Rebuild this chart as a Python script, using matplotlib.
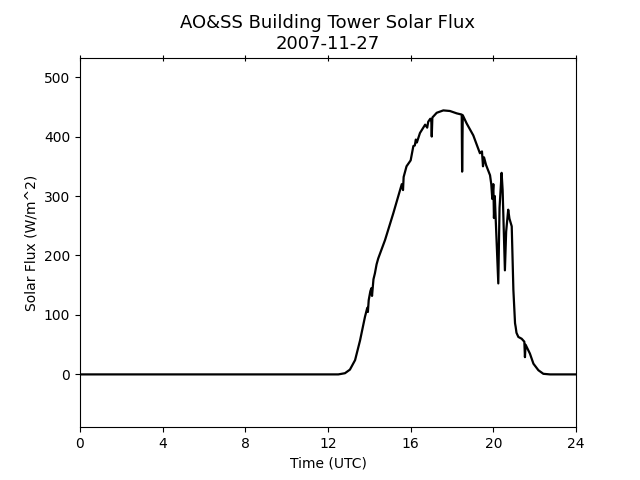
import matplotlib
matplotlib.use("Agg")
import matplotlib.pyplot as plt
import numpy as np

hours = [0.0, 12.5, 12.82, 13.06, 13.31, 13.55, 13.79, 13.9, 13.93, 13.97, 14.05, 14.1, 14.13,
         14.2, 14.27, 14.35, 14.43, 14.76, 15.16, 15.57, 15.63, 15.66, 15.8, 16.0, 16.13,
         16.2, 16.25, 16.3, 16.45, 16.7, 16.8, 16.85, 16.95, 17.0, 17.02, 17.05, 17.26,
         17.58, 17.9, 18.23, 18.47, 18.49, 18.52, 18.71, 19.03, 19.35, 19.45, 19.5, 19.55,
         19.65, 19.84, 19.9, 19.95, 20.0, 20.03, 20.07, 20.24, 20.3, 20.4, 20.45, 20.56,
         20.62, 20.72, 20.78, 20.89, 20.97, 21.05, 21.08, 21.12, 21.21, 21.37, 21.5, 21.53,
         21.56, 21.77, 21.94, 22.18, 22.42, 22.74, 24.0]
flux = [0, 0, 2, 8, 24, 57, 97, 112, 105, 125, 140, 145, 132,
        160, 170, 185, 195, 226, 271, 320, 310, 332, 350, 360, 384,
        385, 395, 390, 406, 420, 415, 425, 430, 425, 400, 432, 440,
        444, 443, 439, 437, 341, 436, 422, 402, 372, 375, 350, 365,
        352, 335, 320, 295, 320, 263, 300, 153, 280, 339, 310, 175,
        240, 277, 262, 249, 142, 86, 80, 70, 63, 60, 55, 29,
        50, 35, 18, 7, 1, 0, 0]

fig, ax = plt.subplots(figsize=(6.4, 4.8), dpi=100)
ax.plot(hours, flux, color="black", linewidth=1.6)
fmax = max(flux)
ax.set_ylim(-0.2 * fmax, 1.2 * fmax)
ax.set_xlim(0, 24)
ax.set_xticks([0, 4, 8, 12, 16, 20, 24])
ax.set_yticks([0, 100, 200, 300, 400, 500])
ax.tick_params(axis="x", top=True)
for t in ax.xaxis.get_major_ticks():
    t.tick2line.set_marker("|")
    t.tick2line.set_markersize(4.9)
ax.set_xlabel("Time (UTC)")
ax.set_ylabel("Solar Flux (W/m^2)")
ax.set_title("AO&SS Building Tower Solar Flux\n2007-11-27", fontsize=13)
fig.savefig("out.png", dpi=100)
